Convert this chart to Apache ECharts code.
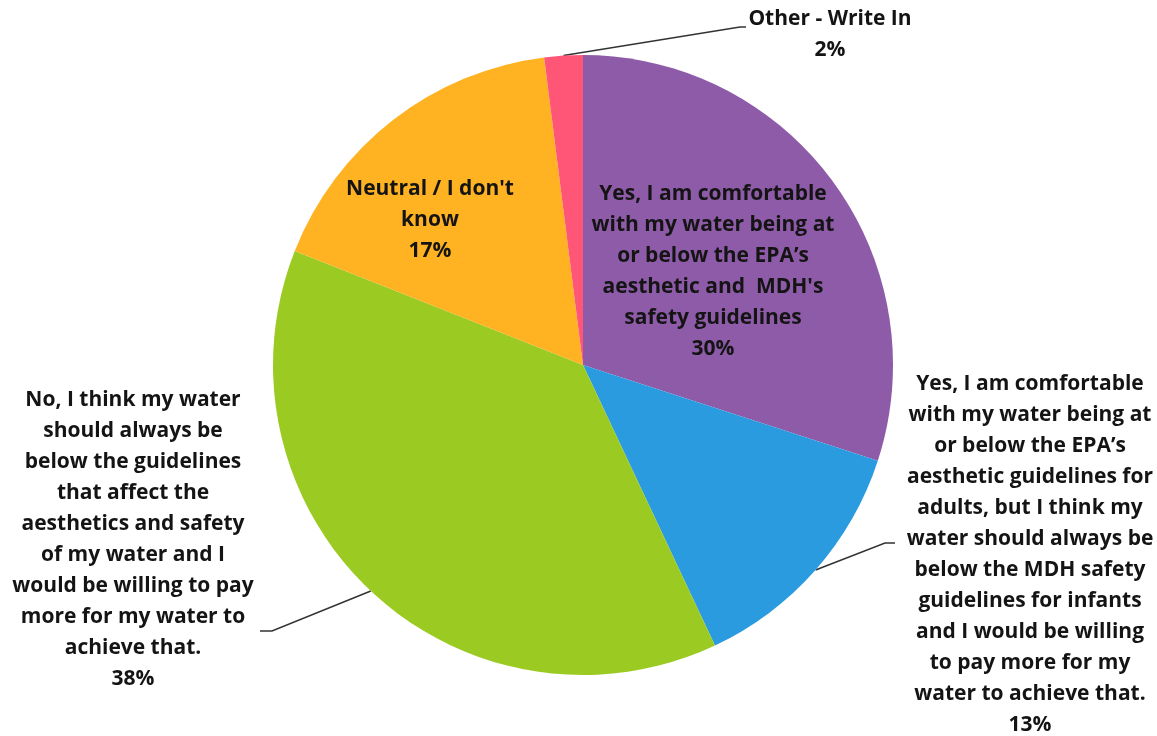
<!DOCTYPE html>
<html>
<head>
<meta charset="utf-8">
<script src="https://cdn.jsdelivr.net/npm/echarts@6/dist/echarts.min.js"></script>
<style>
html,body{margin:0;padding:0;background:#fff;}
#chart{width:1157px;height:736px;}
</style>
</head>
<body>
<div id="chart"></div>
<script>
// ---- data ----
const categories = [
  "Yes, I am comfortable\nwith my water being at\nor below the EPA’s\naesthetic and  MDH's\nsafety guidelines",
  "Yes, I am comfortable\nwith my water being at\nor below the EPA’s\naesthetic guidelines for\nadults, but I think my\nwater should always be\nbelow the MDH safety\nguidelines for infants\nand I would be willing\nto pay more for my\nwater to achieve that.",
  "No, I think my water\nshould always be\nbelow the guidelines\nthat affect the\naesthetics and safety\nof my water and I\nwould be willing to pay\nmore for my water to\nachieve that.",
  "Neutral / I don't\nknow",
  "Other - Write In"
];
const values = [30, 13, 38, 17, 2];
const colors = ["#8E5BA8", "#2B9BDF", "#9BCB22", "#FFB222", "#FF5677"];

// ---- label placement (layout only) ----
const labelPos = [
  {x: 713, y: 272},
  {x: 1030, y: 555},
  {x: 133, y: 540},
  {x: 430, y: 220},
  {x: 830, y: 35}
];
const lineEnds = [
  null,
  [[885, 543], [895, 543]],
  [[272, 631], [260, 631]],
  null,
  [[740, 27], [746, 27]]
];

const chart = echarts.init(document.getElementById('chart'));
const outside = [false, true, true, false, true];
chart.setOption({
  animation: false,
  series: [{
    type: 'pie',
    center: [583, 365],
    radius: 310,
    startAngle: 90,
    clockwise: true,
    silent: true,
    data: categories.map((c, i) => ({
      name: c,
      value: values[i],
      itemStyle: {color: colors[i]},
      label: {position: outside[i] ? 'outside' : 'inside'},
      labelLine: {show: outside[i]}
    })),
    label: {
      formatter: '{b}\n{c}%',
      fontFamily: 'Open Sans',
      fontWeight: 'bold',
      fontSize: 21,
      lineHeight: 31,
      color: '#141414',
      align: 'center'
    },
    labelLine: {
      lineStyle: {color: '#333333', width: 1.5}
    },
    labelLayout: function (params) {
      const i = params.dataIndex;
      const p = labelPos[i];
      const o = {x: p.x, y: p.y, align: 'center', verticalAlign: 'middle'};
      if (lineEnds[i] && params.labelLinePoints) {
        o.labelLinePoints = [params.labelLinePoints[0], lineEnds[i][0], lineEnds[i][1]];
      }
      return o;
    }
  }]
});
</script>
</body>
</html>
